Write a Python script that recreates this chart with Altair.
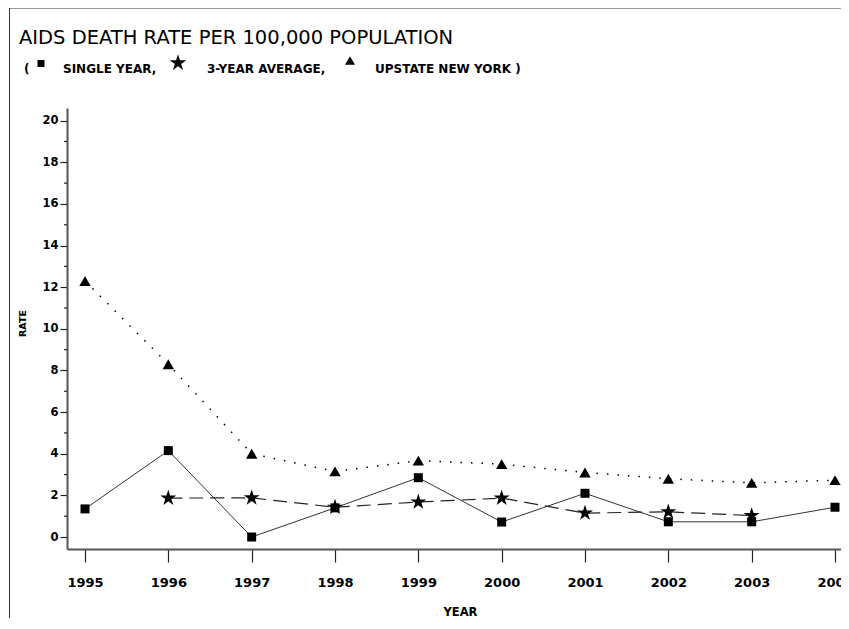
import altair as alt
import pandas as pd

# ---- data ----
years = [1995, 1996, 1997, 1998, 1999, 2000, 2001, 2002, 2003, 2004]
single_year = [1.35, 4.15, 0.0, 1.4, 2.85, 0.72, 2.1, 0.73, 0.73, 1.43]
avg_years = [1996, 1997, 1998, 1999, 2000, 2001, 2002, 2003]
avg_3yr = [1.87, 1.88, 1.43, 1.68, 1.87, 1.15, 1.21, 1.03]
upstate = [12.3, 8.3, 4.0, 3.15, 3.67, 3.5, 3.1, 2.8, 2.6, 2.73]
major_ticks = [0, 2, 4, 6, 8, 10, 12, 14, 16, 18, 20]
minor_ticks = [1, 3, 5, 7, 9, 11, 13, 15, 17, 19]

title_text = "AIDS DEATH RATE PER 100,000 POPULATION"
legend_labels = ["SINGLE YEAR,", "3-YEAR AVERAGE,", "UPSTATE NEW YORK )"]

FONT = "DejaVu Sans"
STAR = ("M0,-1L0.2245,-0.309L0.951,-0.309L0.363,0.118L0.588,0.809L0,0.382"
        "L-0.588,0.809L-0.363,0.118L-0.951,-0.309L-0.2245,-0.309Z")

df_single = pd.DataFrame({"year": years, "value": single_year})
df_avg = pd.DataFrame({"year": avg_years, "value": avg_3yr})
df_up = pd.DataFrame({"year": years, "value": upstate})
df_minor = pd.DataFrame({"value": minor_ticks})

x_scale = alt.Scale(domain=[1994.784, 2004.072], nice=False, zero=False)
y_scale = alt.Scale(domain=[-0.5765, 20.61], nice=False, zero=False)

x_axis = alt.Axis(
    values=years, format="d", grid=False, labelFlush=False, labelOverlap=False,
    tickSize=13, tickWidth=1.2, tickColor="#222",
    domainColor="#555", domainWidth=2,
    labelFont=FONT, labelFontWeight="bold", labelFontSize=13, labelColor="black",
    labelPadding=14,
    title="YEAR", titleFont=FONT, titleFontSize=11.5, titleFontWeight="bold",
    titleColor="black", titleX=393, titleY=63, titleAlign="center",
    titleBaseline="middle",
)
y_axis = alt.Axis(
    values=major_ticks, grid=False, labelOverlap=False, labelFlush=False,
    tickSize=7, tickWidth=1.2, tickColor="#222",
    domainColor="#555", domainWidth=2,
    labelFont=FONT, labelFontWeight="bold", labelFontSize=11.5, labelColor="black",
    labelPadding=2,
    title="RATE", titleFont=FONT, titleFontSize=9.5, titleFontWeight="bold",
    titleColor="black", titleAngle=270, titleX=-45, titleY=215,
    titleAlign="center", titleBaseline="middle",
)

X = alt.X("year:Q", scale=x_scale, axis=x_axis)
Y = alt.Y("value:Q", scale=y_scale, axis=y_axis)

single_line = alt.Chart(df_single).mark_line(color="#333", strokeWidth=1).encode(x=X, y=Y)
single_pts = alt.Chart(df_single).mark_point(shape="square", filled=True, size=81,
                                             color="black", opacity=1).encode(x=X, y=Y)
avg_line = alt.Chart(df_avg).mark_line(color="#222", strokeWidth=1.2,
                                       strokeDash=[14, 7]).encode(x=X, y=Y)
avg_pts = alt.Chart(df_avg).mark_point(shape=STAR, filled=True, size=283,
                                       color="black", opacity=1).encode(x=X, y=Y)
up_line = alt.Chart(df_up).mark_line(color="black", strokeWidth=1.5,
                                     strokeDash=[1.5, 9]).encode(x=X, y=Y)
up_pts = alt.Chart(df_up).mark_point(shape="triangle-up", filled=True, size=130,
                                     color="black", opacity=1).encode(x=X, y=Y)

minor = alt.Chart(df_minor).mark_rule(color="#222", strokeWidth=1.2).encode(
    y=Y, x=alt.value(-3), x2=alt.value(0))

one = alt.Data(values=[{}])
frame_top = alt.Chart(one).mark_rule(color="#999", strokeWidth=1).encode(
    x=alt.value(-58), x2=alt.value(780), y=alt.value(-99.5))
frame_left = alt.Chart(one).mark_rule(color="#333", strokeWidth=1).encode(
    x=alt.value(-57.5), y=alt.value(-100), y2=alt.value(530))

title = alt.Chart(one).mark_text(text=title_text, font=FONT, fontSize=19.5, align="left",
                                 baseline="alphabetic", color="black").encode(
    x=alt.value(-48), y=alt.value(-64.5))
paren = alt.Chart(one).mark_text(text="(", font=FONT, fontSize=12, fontWeight="bold",
                                 align="left", baseline="alphabetic", color="black").encode(
    x=alt.value(-43), y=alt.value(-35))
leg_texts = [
    alt.Chart(one).mark_text(text=t, font=FONT, fontSize=12, fontWeight="bold",
                             align="left", baseline="alphabetic", color="black").encode(
        x=alt.value(xp), y=alt.value(-35))
    for t, xp in zip(legend_labels, [-4, 140, 308])
]
leg_sq = alt.Chart(one).mark_point(shape="square", filled=True, size=49, color="black",
                                   opacity=1).encode(x=alt.value(-26), y=alt.value(-44.5))
leg_star = alt.Chart(one).mark_point(shape=STAR, filled=True, size=300, color="black",
                                     opacity=1).encode(x=alt.value(111), y=alt.value(-45))
leg_tri = alt.Chart(one).mark_point(shape="triangle-up", filled=True, size=100,
                                    color="black", opacity=1).encode(
    x=alt.value(283), y=alt.value(-47.5))

chart = alt.layer(
    single_line, avg_line, up_line, minor, single_pts, avg_pts, up_pts,
    frame_top, frame_left, title, paren, *leg_texts, leg_sq, leg_star, leg_tri,
).properties(
    width=774, height=441,
    padding={"left": 59, "top": 100, "right": 0, "bottom": 69},
    autosize=alt.AutoSizeParams(type="none"),
    background="white",
).configure_view(strokeWidth=0)

chart.save("out.html", embed_options={"renderer": "svg", "actions": False})
